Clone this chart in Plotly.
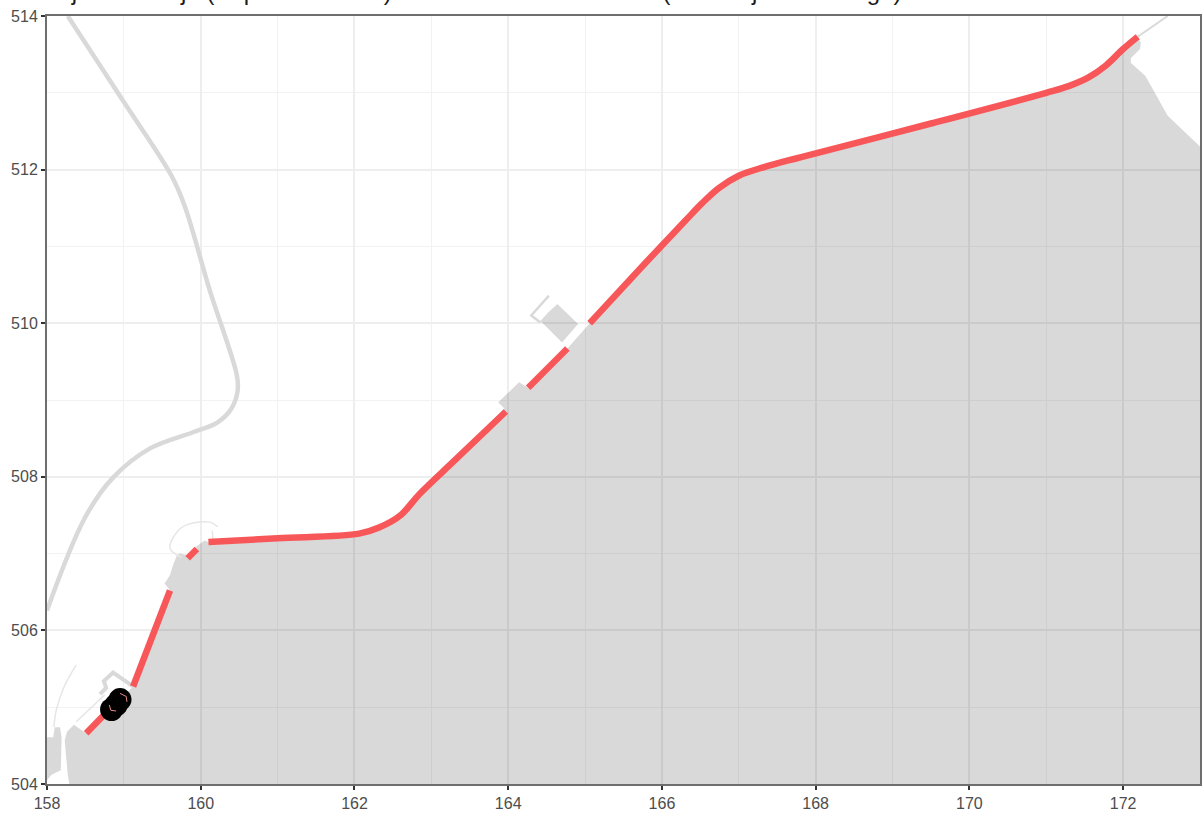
import plotly.graph_objects as go

TITLE = "Dijakarta Raja (Populka Kivices) – 2016 Dokuzlino 5.5km (Amko Ljok Domanga)"
X_TICKS = [158, 160, 162, 164, 166, 168, 170, 172]
Y_TICKS = [504, 506, 508, 510, 512, 514]

# track sections (red)
seg1_x = [158.51, 158.82]
seg1_y = [504.66, 504.98]
seg2_x = [159.12, 159.60]
seg2_y = [505.27, 506.52]
seg3_x = [159.83, 159.95]
seg3_y = [506.94, 507.06]
seg4_x = [160.10, 161.00, 162.06, 162.32, 162.60, 162.85, 163.30, 163.97]
seg4_y = [507.15, 507.20, 507.26, 507.34, 507.50, 507.78, 508.21, 508.85]
seg5_x = [164.26, 164.77]
seg5_y = [509.16, 509.67]
seg6_x = [165.06, 165.80, 166.30, 166.52, 166.74, 167.00, 167.32, 167.80, 169.50, 171.00, 171.30, 171.55, 171.78, 172.00, 172.19]
seg6_y = [510.00, 510.80, 511.33, 511.56, 511.76, 511.92, 512.03, 512.16, 512.60, 513.00, 513.09, 513.20, 513.36, 513.57, 513.73]

# land area
land_x = [158.29, 158.27, 158.23, 158.26, 158.35, 158.48, 158.51, 159.12, 159.60, 159.53,
          159.60, 159.64, 159.69, 159.73, 159.83, 159.95, 160.05, 160.10, 162.06, 162.32,
          162.60, 162.85, 163.95, 163.87, 164.14, 164.26, 164.77, 165.06, 166.30, 166.52,
          166.74, 167.00, 167.32, 171.00, 171.30, 171.55, 171.78, 172.00, 172.19, 172.23, 172.22, 172.10,
          172.10, 172.29, 172.58, 172.97, 173.00, 173.00]
land_y = [504.00, 504.12, 504.57, 504.68, 504.77, 504.68, 504.66, 505.27, 506.52, 506.61,
          506.72, 506.85, 506.98, 507.00, 506.98, 507.10, 507.17, 507.15, 507.26, 507.34,
          507.50, 507.78, 508.89, 508.97, 509.23, 509.16, 509.67, 510.00, 511.33, 511.56,
          511.76, 511.92, 512.03, 513.00, 513.09, 513.20, 513.36, 513.57, 513.73, 513.65, 513.57, 513.45,
          513.39, 513.22, 512.70, 512.34, 512.30, 504.00]

left_x = [158.00, 158.08, 158.10, 158.17, 158.19, 158.18, 158.06, 158.00]
left_y = [504.61, 504.61, 504.74, 504.74, 504.61, 504.18, 504.12, 504.05]

bldg_x = [164.42, 164.52, 164.64, 164.91, 164.70]
bldg_y = [510.03, 510.14, 510.25, 509.99, 509.75]

# roads
road_x = [158.27, 159.00, 159.62, 159.79, 160.12, 160.47, 160.48, 160.40, 160.22, 159.90, 159.34, 158.85, 158.49, 158.00]
road_y = [514.00, 512.88, 511.92, 511.53, 510.42, 509.32, 509.12, 508.89, 508.71, 508.58, 508.37, 507.98, 507.46, 506.26]
end_x = [172.19, 172.58]
end_y = [513.73, 514.00]
outline_x = [164.53, 164.30, 164.42]
outline_y = [510.36, 510.10, 510.01]
pit_x = [159.75, 159.60, 159.69, 159.83, 160.12, 160.22]
pit_y = [506.95, 507.07, 507.28, 507.38, 507.41, 507.35]
stub_x = [160.15, 160.16]
stub_y = [507.30, 507.18]
thin_x = [158.38, 158.22, 158.12, 158.09]
thin_y = [505.55, 505.26, 504.96, 504.74]
lane_x = [158.38, 158.75]
lane_y = [504.81, 505.16]
hook_x = [159.12, 158.86, 158.74, 158.77, 158.69]
hook_y = [505.27, 505.45, 505.34, 505.25, 505.17]

# car positions
car_x = [158.84, 158.90, 158.95]
car_y = [504.97, 505.03, 505.10]
arc1_x = [158.81, 158.83, 158.90]
arc1_y = [505.03, 504.96, 504.95]
arc2_x = [158.95, 159.03, 159.04]
arc2_y = [505.18, 505.14, 505.07]

FILL = "rgba(0,0,0,0.15)"
RED = "#f8575a"
fig = go.Figure()


def poly(x, y):
    fig.add_trace(go.Scatter(x=x, y=y, mode="lines", fill="toself", fillcolor=FILL,
                             line=dict(width=0), hoverinfo="skip", showlegend=False))


def line(x, y, color, width, shape="linear"):
    fig.add_trace(go.Scatter(x=x, y=y, mode="lines",
                             line=dict(color=color, width=width, shape=shape),
                             hoverinfo="skip", showlegend=False))


poly(land_x, land_y)
poly(left_x, left_y)
poly(bldg_x, bldg_y)
line(road_x, road_y, "#d9d9d9", 4.5, "spline")
line(end_x, end_y, "#d9d9d9", 2)
line(outline_x, outline_y, "#d9d9d9", 2.5)
line(pit_x, pit_y, "#e6e6e6", 1.5, "spline")
line(stub_x, stub_y, "#e6e6e6", 1.5)
line(thin_x, thin_y, "#e6e6e6", 1.5, "spline")
line(lane_x, lane_y, "#e6e6e6", 1.5)
line(hook_x, hook_y, "#d9d9d9", 4)
for sx, sy in [(seg1_x, seg1_y), (seg2_x, seg2_y), (seg3_x, seg3_y),
               (seg4_x, seg4_y), (seg5_x, seg5_y), (seg6_x, seg6_y)]:
    line(sx, sy, RED, 6.5, "spline")
fig.add_trace(go.Scatter(x=car_x, y=car_y, mode="markers", hoverinfo="skip", showlegend=False,
                         marker=dict(color="#000000", size=23, line=dict(width=0))))
line(arc1_x, arc1_y, "#e88a8a", 1)
line(arc2_x, arc2_y, "#e88a8a", 1)

axis = dict(showline=True, mirror=True, linecolor="#6e6e6e", linewidth=2,
            ticks="outside", ticklen=4, tickwidth=1.5, tickcolor="#333333",
            tickfont=dict(family="Liberation Sans", size=16, color="#4d4d4d"),
            showgrid=True, gridcolor="#eeeeee", gridwidth=1.5, zeroline=False)
fig.update_layout(
    width=1203, height=813, autosize=False,
    margin=dict(l=47, r=1, t=16, b=29),
    paper_bgcolor="white", plot_bgcolor="white", showlegend=False,
    xaxis=dict(axis, range=[158, 173], tickvals=X_TICKS,
               minor=dict(tickvals=[159, 161, 163, 165, 167, 169, 171, 173], showgrid=True,
                          gridcolor="#f2f2f2", gridwidth=1, ticks="")),
    yaxis=dict(axis, range=[504, 514], tickvals=Y_TICKS,
               minor=dict(tickvals=[505, 507, 509, 511, 513], showgrid=True,
                          gridcolor="#f2f2f2", gridwidth=1, ticks="")),
    annotations=[dict(text=TITLE, xref="paper", yref="paper", x=0, y=1.012, xanchor="left",
                      yanchor="bottom", showarrow=False,
                      font=dict(family="Liberation Sans", size=24, color="#1a1a1a"))],
)
fig.write_html("out.html", config=dict(displayModeBar=False),
               post_script="document.body.style.margin='0';")
